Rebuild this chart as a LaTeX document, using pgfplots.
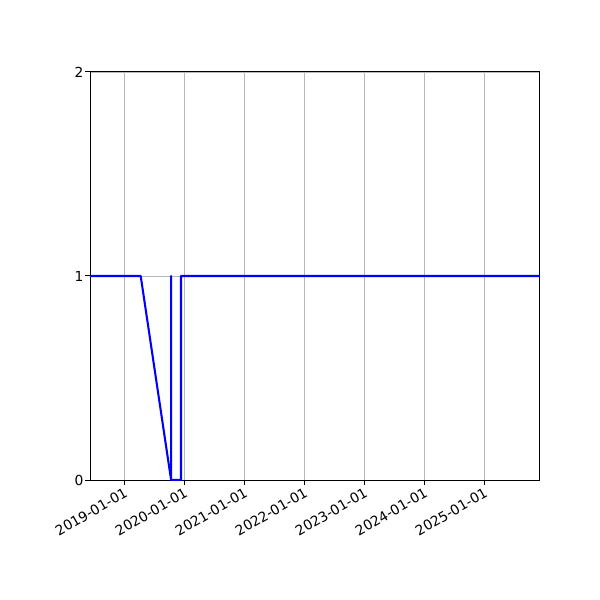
\documentclass[border=0pt]{standalone}
\usepackage{pgfplots}
\pgfplotsset{compat=1.18}
\usepackage{fontspec}
\setmainfont{DejaVu Sans}
\begin{document}
\begin{tikzpicture}
\begin{axis}[
    name=ax,
    scale only axis,
    width=325.2pt, height=294.9pt,
    xmin=2018.433, xmax=2025.933,
    ymin=0, ymax=2,
    xtick={2019,2020,2021,2022,2023,2024,2025},
    xticklabels={2019-01-01,2020-01-01,2021-01-01,2022-01-01,2023-01-01,2024-01-01,2025-01-01},
    ytick={0,1,2},
    x tick label style={rotate=30, anchor=north east, inner sep=1pt},
    y tick label style={inner sep=1pt},
    /pgf/number format/assume math mode=true,
    tick label style={font=\fontsize{10}{12}\selectfont},
    tick align=outside,
    tick pos=left,
    major tick length=3.5pt,
    every tick/.style={black, line width=0.7pt},
    axis line style={line width=0.7pt},
    grid=major,
    major grid style={color=black!28, line width=0.6pt},
]
\addplot[blue, line width=1.5pt, line join=round, line cap=round] coordinates {
    (2018.433,1)
    (2019.278,1)
    (2019.785,0)
    (2019.785,1)
    (2019.785,0)
    (2019.95,0)
    (2019.95,1)
    (2025.933,1)
};
\end{axis}
\path ([shift={(-65.04pt,-86.72pt)}]ax.south west) rectangle ++(433.62pt,433.62pt);
\end{tikzpicture}
\end{document}
